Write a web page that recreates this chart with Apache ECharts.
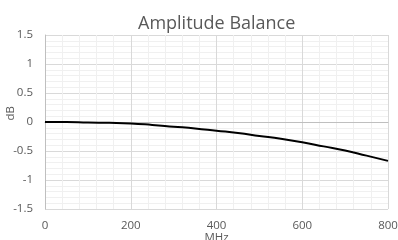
<!DOCTYPE html>
<html>
<head>
<meta charset="utf-8">
<script src="https://cdn.jsdelivr.net/npm/echarts@6/dist/echarts.min.js"></script>
<style>
html,body{margin:0;padding:0;background:#fff;}
#main{width:398px;height:240px;}
</style>
</head>
<body>
<div id="main"></div>
<script>
// 频率 (MHz) 与幅度平衡 (dB)
var freq = [0, 50, 100, 150, 200, 250, 300, 350, 400, 450, 500, 550, 600, 650, 700, 750, 800];
var balance = [0.00, 0.00, -0.01, -0.015, -0.025, -0.05, -0.08, -0.11, -0.15, -0.19, -0.24, -0.29, -0.35, -0.42, -0.49, -0.58, -0.67];

var lineData = [];
for (var i = 0; i < freq.length; i++) {
    lineData.push([freq[i], balance[i]]);
}

var labelStyle = {
    color: '#595959',
    fontFamily: 'Open Sans',
    fontSize: 11.5
};

var myChart = echarts.init(document.getElementById('main'));
var option = {
    animation: false,
    title: {
        text: 'Amplitude Balance',
        left: 133,
        top: 10,
        textStyle: {
            color: '#595959',
            fontFamily: 'Open Sans',
            fontWeight: 'normal',
            fontSize: 18
        }
    },
    grid: {
        left: 45,
        right: 10,
        top: 35,
        bottom: 31,
        containLabel: false,
        outerBoundsMode: 'none'
    },
    // y轴标题
    graphic: [{
        type: 'text',
        left: 5,
        top: 106,
        rotation: Math.PI / 2,
        style: {
            text: 'dB',
            fill: '#595959',
            font: '11.5px "Open Sans"'
        }
    }],
    xAxis: {
        type: 'value',
        min: 0,
        max: 800,
        interval: 200,
        name: 'MHz',
        nameLocation: 'middle',
        nameGap: 23,
        nameMoveOverlap: false,
        nameTextStyle: labelStyle,
        axisLine: {lineStyle: {color: '#bfbfbf'}},
        axisTick: {show: false},
        axisLabel: {margin: 11, color: labelStyle.color, fontFamily: labelStyle.fontFamily, fontSize: labelStyle.fontSize},
        splitLine: {show: true, lineStyle: {color: '#d9d9d9', width: 1}},
        minorTick: {show: false, splitNumber: 5},
        minorSplitLine: {show: true, lineStyle: {color: '#f0f0f0', width: 1}}
    },
    yAxis: {
        type: 'value',
        min: -1.5,
        max: 1.5,
        interval: 0.5,
        axisLine: {show: true, lineStyle: {color: '#bfbfbf'}},
        axisTick: {show: false},
        axisLabel: {margin: 12, color: labelStyle.color, fontFamily: labelStyle.fontFamily, fontSize: labelStyle.fontSize},
        splitLine: {show: true, lineStyle: {color: '#d9d9d9', width: 1}},
        minorTick: {show: false, splitNumber: 5},
        minorSplitLine: {show: true, lineStyle: {color: '#f0f0f0', width: 1}}
    },
    series: [{
        type: 'line',
        data: lineData,
        smooth: true,
        showSymbol: false,
        lineStyle: {color: '#000000', width: 2}
    }]
};
myChart.setOption(option);
</script>
</body>
</html>
